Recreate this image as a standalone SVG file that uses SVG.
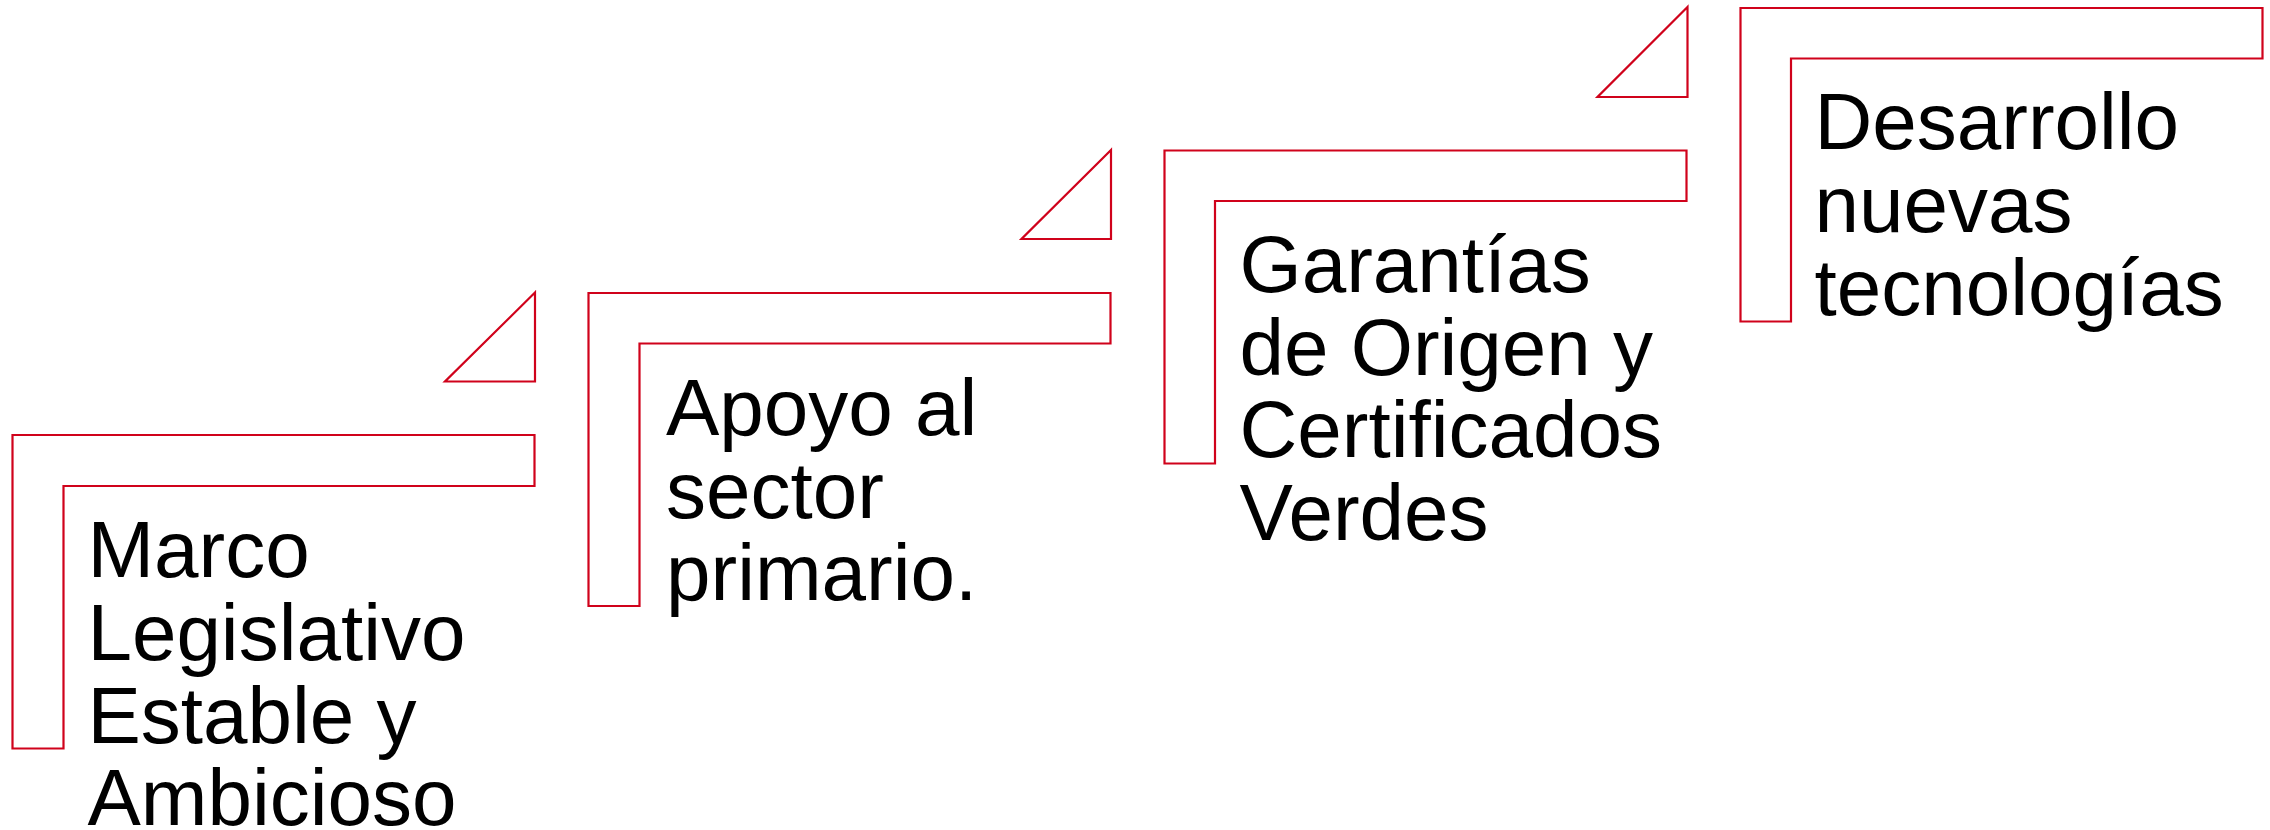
<svg xmlns="http://www.w3.org/2000/svg" width="2270" height="830" viewBox="0 0 2270 830">
<style>
.frame{fill:none;stroke:#d0021b;stroke-width:2.2;stroke-linejoin:miter}
.lbl{font-family:"Liberation Sans",Arial,sans-serif;font-size:80px;fill:#000}
</style>
<rect width="2270" height="830" fill="#fff"/>
<g id="connectors"></g>
<g id="step1">
<polygon class="frame" points="535,292.5 445,381.5 535,381.5"/>
<polygon class="frame" points="12.5,435 534.5,435 534.5,486 63.5,486 63.5,748.5 12.5,748.5"/>
<text class="lbl" x="87.4"><tspan x="87.4" y="577.3">Marco</tspan><tspan x="87.4" y="660">Legislativo</tspan><tspan x="87.4" y="742.7">Estable y</tspan><tspan x="87.4" y="825.4">Ambicioso</tspan></text>
</g>
<g id="step2">
<polygon class="frame" points="1111,150 1021.5,239 1111,239"/>
<polygon class="frame" points="588.5,293 1110.5,293 1110.5,343.5 639.5,343.5 639.5,606 588.5,606"/>
<text class="lbl"><tspan x="666" y="434.5">Apoyo al</tspan><tspan x="666" y="517.5">sector</tspan><tspan x="666" y="600.2">primario.</tspan></text>
</g>
<g id="step3">
<polygon class="frame" points="1687.5,7 1597.5,97 1687.5,97"/>
<polygon class="frame" points="1164.5,150.5 1686.5,150.5 1686.5,201 1215,201 1215,463.5 1164.5,463.5"/>
<text class="lbl"><tspan x="1239.5" y="291.8">Garantías</tspan><tspan x="1239.5" y="374.7">de Origen y</tspan><tspan x="1239.5" y="457.4">Certificados</tspan><tspan x="1239.5" y="540.1">Verdes</tspan></text>
</g>
<g id="step4">
<polygon class="frame" points="1740.5,8 2262.5,8 2262.5,58.5 1791,58.5 1791,321.5 1740.5,321.5"/>
<text class="lbl"><tspan x="1814.5" y="149.3">Desarrollo</tspan><tspan x="1814.5" y="232">nuevas</tspan><tspan x="1814.5" y="314.5">tecnologías</tspan></text>
</g>
</svg>
